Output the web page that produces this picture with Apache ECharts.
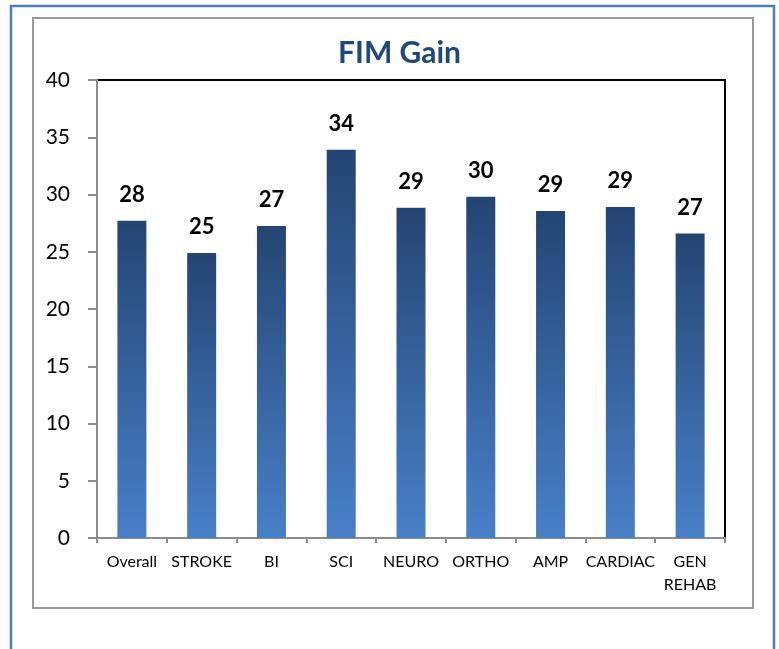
<!DOCTYPE html>
<html>
<head>
    <meta charset="utf-8">
    <title>FIM Gain</title>
    <script src="https://cdn.jsdelivr.net/npm/echarts@6/dist/echarts.min.js"></script>
    <style>
        html, body { margin: 0; padding: 0; background: #fff; }
    </style>
</head>
<body>
    <div id="main" style="width: 779px;height:649px;"></div>
    <script type="text/javascript">
        // data
        var categories = ['Overall', 'STROKE', 'BI', 'SCI', 'NEURO', 'ORTHO', 'AMP', 'CARDIAC', 'GEN\nREHAB'];
        var fimGain = [27.7, 24.9, 27.25, 33.9, 28.85, 29.8, 28.56, 28.9, 26.6];
        var yTicks = [0, 5, 10, 15, 20, 25, 30, 35, 40];

        var font = 'Lato, "Open Sans", sans-serif';
        var myChart = echarts.init(document.getElementById('main'));

        var option = {
            animation: false,
            backgroundColor: '#fff',
            title: {
                text: 'FIM Gain',
                left: 333,
                top: 33,
                textStyle: { fontFamily: font, fontSize: 30, fontWeight: 'bold', color: '#1F497D' }
            },
            graphic: [
                { type: 'rect', shape: { x: 11, y: 6, width: 763, height: 660 },
                  style: { fill: 'none', stroke: '#4A7DBA', lineWidth: 2.5 }, z: 0 },
                { type: 'rect', shape: { x: 33, y: 18, width: 720, height: 590 },
                  style: { fill: 'none', stroke: '#9A9A9A', lineWidth: 2 }, z: 0 }
            ],
            grid: {
                left: 97, top: 80, right: 54, bottom: 111,
                show: true, borderColor: '#000', borderWidth: 2, backgroundColor: 'transparent'
            },
            xAxis: {
                type: 'category',
                data: categories,
                axisLine: { lineStyle: { color: '#8C8C8C', width: 2 } },
                axisTick: { show: true, length: 5, lineStyle: { color: '#8C8C8C', width: 2 } },
                axisLabel: { fontFamily: font, fontSize: 16, color: '#000', lineHeight: 23, margin: 12, interval: 0 }
            },
            yAxis: {
                type: 'value',
                min: yTicks[0],
                max: yTicks[yTicks.length - 1],
                interval: yTicks[1] - yTicks[0],
                splitLine: { show: false },
                axisLine: { show: true, lineStyle: { color: '#8C8C8C', width: 2 } },
                axisTick: { show: true, length: 9, lineStyle: { color: '#8C8C8C', width: 2 } },
                axisLabel: { fontFamily: font, fontSize: 21, color: '#000', margin: 27 }
            },
            series: [{
                name: 'FIM Gain',
                type: 'bar',
                data: fimGain,
                barWidth: 29,
                itemStyle: {
                    color: new echarts.graphic.LinearGradient(0, 0, 0, 1, [
                        { offset: 0, color: '#244573' },
                        { offset: 1, color: '#4880C8' }
                    ])
                },
                label: {
                    show: true,
                    position: 'top',
                    distance: 15,
                    fontFamily: font,
                    fontSize: 22,
                    fontWeight: 'bold',
                    color: '#000',
                    formatter: function (p) { return Math.round(p.value); }
                }
            }]
        };

        myChart.setOption(option);
    </script>
</body>
</html>
